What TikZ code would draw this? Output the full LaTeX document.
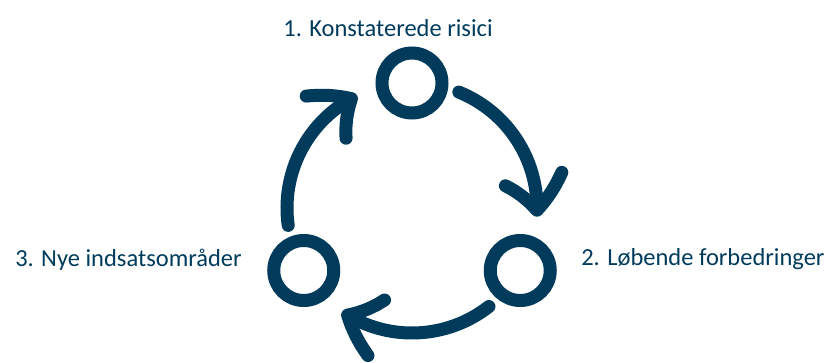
\documentclass[tikz,border=0pt]{standalone}
\usepackage{fontspec}
\setmainfont{Carlito}
\usetikzlibrary{arrows.meta,bending,positioning}
\definecolor{navy}{RGB}{0,59,92}
\tikzset{
	every node/.style={
		font=\fontsize{24.5}{28}\selectfont,
		text=navy
	},
	ring/.style={
		shape=circle,
		draw=navy,
		line width=13pt,
		minimum size=60pt,
		inner sep=0pt
	},
	cycle arrow/.style={
		draw=navy,
		line width=13pt,
		line cap=round,
		-{Straight Barb[length=32pt,width=58pt,round,bend]}
	}
}
\begin{document}
\begin{tikzpicture}[x=1pt,y=1pt]
\useasboundingbox (-412,-154) rectangle (412,208);
\clip (-412,-154) rectangle (412,208);
\coordinate (o) at (0,0);

\node [ring] (risk) at (90:125) {};
\node [ring] (impr) at (-30:125) {};
\node [ring] (new) at (210:125) {};

\node [above=10pt of risk, anchor=base, xshift=-24pt] (risklbl) {1. Konstaterede risici};
\node [right=21pt of impr, yshift=11pt] (imprlbl) {2. Løbende forbedringer};
\node [left=22pt of new, yshift=11pt] (newlbl) {3. Nye indsatsområder};

% arrows round the cycle
\draw [cycle arrow] ([shift={(68:125)}]o) arc [start angle=68, end angle=-4, radius=125];
\draw [cycle arrow] ([shift={(-52:125)}]o) arc [start angle=-52, end angle=-124, radius=125];
\draw [cycle arrow] ([shift={(188:125)}]o) arc [start angle=188, end angle=116, radius=125];

\end{tikzpicture}
\end{document}
